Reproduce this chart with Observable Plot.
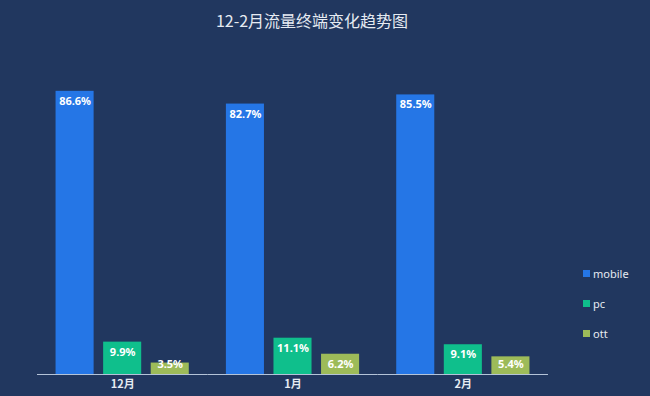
<!DOCTYPE html>
<html>
<head>
<meta charset="utf-8">
<script src="https://cdn.jsdelivr.net/npm/d3@7"></script>
<script src="https://cdn.jsdelivr.net/npm/@observablehq/plot@0.6"></script>
<style>
  html, body { margin: 0; padding: 0; }
  body { width: 650px; height: 396px; background: #21375f; position: relative; overflow: hidden;
         font-family: "Noto Sans CJK SC", "Noto Sans", sans-serif; }
  #title { position: absolute; left: 0; top: 8px; width: 624px; text-align: center; color: #e6ebf2;
           font-size: 16px; line-height: 24px; font-family: "Noto Sans CJK SC", sans-serif; }
  #chart { position: absolute; left: 0; top: 40px; }
  #legend { position: absolute; left: 583px; top: 258px; }
  .sw { display: flex; align-items: center; height: 30px; color: #e6ebf2; font-size: 11px;
        font-family: "Noto Sans", sans-serif; }
  .sw span.box { display: inline-block; width: 7px; height: 7px; margin-right: 3px; }
</style>
</head>
<body>
<div id="title">12-2月流量终端变化趋势图</div>
<div id="chart"></div>
<div id="legend"></div>
<script>
const months = ["12月", "1月", "2月"];
const terminals = ["mobile", "pc", "ott"];
const mobile = [86.6, 82.7, 85.5];
const pc = [9.9, 11.1, 9.1];
const ott = [3.5, 6.2, 5.4];
const colors = ["#2576e6", "#0fbf8c", "#9dbb59"];

const series = {mobile, pc, ott};
const rows = [];
months.forEach((m, i) => terminals.forEach(t => rows.push({month: m, terminal: t, value: series[t][i]})));

const chart = Plot.plot({
  width: 650,
  height: 356,
  marginLeft: 37,
  marginRight: 102,
  marginTop: 7,
  marginBottom: 22,
  style: {background: "transparent", color: "#e6ebf2", fontFamily: "\"Noto Sans CJK SC\", sans-serif", overflow: "visible"},
  facet: {data: rows, x: "month"},
  fx: {domain: months, padding: 0, round: false, axis: "bottom", label: null, tickSize: 0, tickPadding: 6},
  x: {domain: terminals, axis: null, round: false, paddingInner: 0.2, paddingOuter: 0.39},
  y: {domain: [0, 100], axis: null},
  color: {domain: terminals, range: colors},
  marks: [
    Plot.barY(rows, {x: "terminal", y: "value", fill: "terminal"}),
    Plot.ruleY([0], {stroke: "#b4c3d8", strokeWidth: 1}),
    Plot.text(rows, {x: "terminal", y: d => Math.max(d.value, 6.1), text: d => d.value.toFixed(1) + "%", dy: 10,
      fill: "#ffffff", fontWeight: "bold", fontSize: 11, fontFamily: "\"Noto Sans\", sans-serif"})
  ]
});
chart.querySelectorAll("[aria-label='fx-axis tick label'] text, [aria-label='fx-axis'] text").forEach(t => {
  t.setAttribute("font-weight", "bold"); t.setAttribute("font-size", "11");
});
document.getElementById("chart").appendChild(chart);

const legend = document.getElementById("legend");
terminals.forEach((t, i) => {
  const d = document.createElement("div");
  d.className = "sw";
  d.innerHTML = `<span class="box" style="background:${colors[i]}"></span>${t}`;
  legend.appendChild(d);
});
</script>
</body>
</html>
